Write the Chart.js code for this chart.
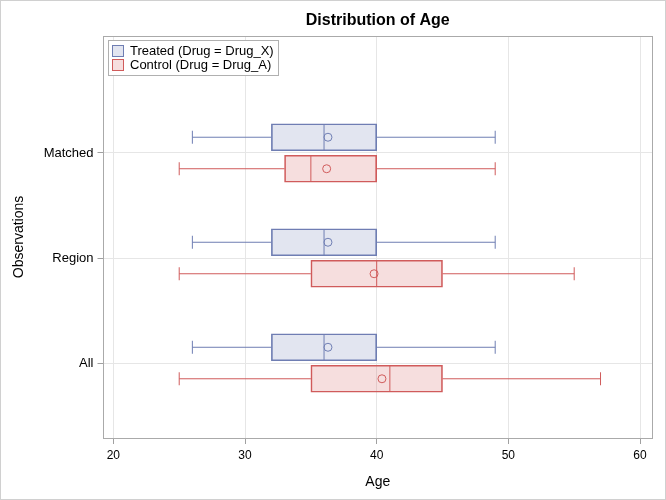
<!DOCTYPE html>
<html><head><meta charset="utf-8">
<script src="https://cdn.jsdelivr.net/npm/chart.js@4.4.1/dist/chart.umd.min.js"></script>
<style>html,body{margin:0;padding:0;background:#fff;overflow:hidden}canvas{display:block}</style>
</head><body>
<canvas id="c" width="666" height="500"></canvas>
<script>
// ---- data ----
const categories = ['All', 'Region', 'Matched'];
const xTicks = [20, 30, 40, 50, 60];
const seriesLabels = ['Treated (Drug = Drug_X)', 'Control (Drug = Drug_A)'];

const treatedMin    = [26, 26, 26];
const treatedQ1     = [32, 32, 32];
const treatedMedian = [36, 36, 36];
const treatedMean   = [36.3, 36.3, 36.3];
const treatedQ3     = [40, 40, 40];
const treatedMax    = [49, 49, 49];

const controlMin    = [25, 25, 25];
const controlQ1     = [35, 35, 33];
const controlMedian = [41, 40, 35];
const controlMean   = [40.4, 39.8, 36.2];
const controlQ3     = [45, 45, 40];
const controlMax    = [57, 55, 49];

// ---- styles ----
const FONT = '"Liberation Sans", Arial, sans-serif';
const GROUP_OFFSET = 0.15;
const BOX_PX = 27;
const TREATED = { stroke: '#6F7EB3', fill: 'rgba(111,126,179,0.2)' };
const CONTROL = { stroke: '#D05B5B', fill: 'rgba(208,91,91,0.2)' };

function buildSeries(label, mins, q1s, meds, means, q3s, maxs, offset, col) {
  const pos = i => i + 1 + offset;
  const gap = { x: null, y: null };
  return [
    { type: 'bar', label, isBox: true,
      data: categories.map((c, i) => ({ x: [q1s[i], q3s[i]], y: pos(i) })),
      backgroundColor: col.fill, borderColor: col.stroke, borderWidth: 1,
      borderSkipped: false, grouped: false, barPercentage: 1, categoryPercentage: 1,
      maxBarThickness: BOX_PX, order: 3 },
    { type: 'line', label: label + ' whisker',
      data: categories.flatMap((c, i) => [
        { x: mins[i], y: pos(i) }, { x: q1s[i], y: pos(i) }, gap,
        { x: q3s[i], y: pos(i) }, { x: maxs[i], y: pos(i) }, gap]),
      borderColor: col.stroke, borderWidth: 1, pointRadius: 0, spanGaps: false, fill: false, order: 2 },
    { type: 'line', label: label + ' caps', showLine: false,
      data: categories.flatMap((c, i) => [{ x: mins[i], y: pos(i) }, { x: maxs[i], y: pos(i) }]),
      pointStyle: 'line', pointRotation: 90, pointRadius: 6.5,
      pointBorderColor: col.stroke, pointBorderWidth: 1, order: 1 },
    { type: 'line', label: label + ' median', showLine: false,
      data: categories.map((c, i) => ({ x: meds[i], y: pos(i) })),
      pointStyle: 'line', pointRotation: 90, pointRadius: BOX_PX / 2 - 0.5,
      pointBorderColor: col.stroke, pointBorderWidth: 1, order: 1 },
    { type: 'line', label: label + ' mean', showLine: false,
      data: categories.map((c, i) => ({ x: means[i], y: pos(i) })),
      pointStyle: 'circle', pointRadius: 4, pointBackgroundColor: 'rgba(0,0,0,0)',
      pointBorderColor: col.stroke, pointBorderWidth: 1, order: 1 }
  ];
}

const datasets = [
  ...buildSeries(seriesLabels[0], treatedMin, treatedQ1, treatedMedian, treatedMean, treatedQ3, treatedMax, GROUP_OFFSET, TREATED),
  ...buildSeries(seriesLabels[1], controlMin, controlQ1, controlMedian, controlMean, controlQ3, controlMax, -GROUP_OFFSET, CONTROL)
];

const framePlugin = {
  id: 'frame',
  afterDraw(chart) {
    const { ctx, chartArea: a } = chart;
    ctx.save();
    ctx.lineWidth = 1;
    ctx.strokeStyle = '#aaaaaa';
    const l = Math.floor(a.left) + 0.5, t = Math.floor(a.top) + 0.5;
    const r = Math.floor(a.right) + 0.5, b = Math.floor(a.bottom) + 0.5;
    ctx.strokeRect(l, t, r - l, b - t);
    // legend
    const items = chart.data.datasets.filter(d => d.isBox);
    ctx.font = '13px ' + FONT;
    const x0 = l + 5, y0 = t + 4;
    const textX = x0 + 21.5;
    const rowH = 14.3;
    let maxW = 0;
    items.forEach(d => { maxW = Math.max(maxW, ctx.measureText(d.label).width); });
    const w = textX - x0 + maxW + 5, h = 10 + rowH * (items.length - 1) + 10.5;
    ctx.fillStyle = '#fff';
    ctx.fillRect(x0, y0, Math.round(w), Math.round(h));
    ctx.strokeStyle = '#b0b0b0';
    ctx.strokeRect(x0, y0, Math.round(w), Math.round(h));
    items.forEach((d, i) => {
      const cy = y0 + 10 + rowH * i;
      const sx = Math.floor(x0 + 3.5) + 0.5, sy = Math.floor(cy - 5.5) + 0.5;
      ctx.fillStyle = '#fff';
      ctx.fillRect(sx, sy, 11, 11);
      ctx.fillStyle = d.backgroundColor;
      ctx.fillRect(sx, sy, 11, 11);
      ctx.strokeStyle = d.borderColor;
      ctx.strokeRect(sx, sy, 11, 11);
      ctx.fillStyle = '#000';
      ctx.textBaseline = 'middle';
      ctx.textAlign = 'left';
      ctx.fillText(d.label, textX, cy + 0.5);
    });
    // outer border
    ctx.strokeStyle = '#d0d0d0';
    ctx.strokeRect(0.5, 0.5, chart.width - 1, chart.height - 1);
    ctx.restore();
  }
};

new Chart(document.getElementById('c'), {
  type: 'bar',
  data: { datasets },
  plugins: [framePlugin],
  options: {
    indexAxis: 'y',
    responsive: false,
    animation: false,
    devicePixelRatio: 1,
    layout: { padding: { left: 0, right: 12.5, top: 0, bottom: 0 } },
    plugins: {
      legend: { display: false },
      tooltip: { enabled: false },
      title: {
        display: true, text: 'Distribution of Age', color: '#000', fullSize: false,
        font: { family: FONT, size: 16, weight: 'bold' },
        padding: { top: 11, bottom: 5.8 }
      }
    },
    scales: {
      x: {
        type: 'linear', min: 19.25, max: 60.91, offset: false,
        afterBuildTicks: s => { s.ticks = xTicks.map(v => ({ value: v })); },
        afterFit: s => { s.height = 62; },
        ticks: { color: '#000', font: { family: FONT, size: 12 }, padding: 4 },
        grid: { color: '#e6e6e6', tickColor: '#a0a0a0', tickLength: 6, offset: false },
        border: { display: false },
        title: { display: true, text: 'Age', color: '#000', font: { family: FONT, size: 14 }, padding: { top: 0, bottom: 9.6 } }
      },
      y: {
        type: 'linear', min: 0.286, max: 4.114, offset: false,
        afterBuildTicks: s => { s.ticks = categories.map((c, i) => ({ value: i + 1 })); },
        afterFit: s => { s.width = 103.5; },
        ticks: { color: '#000', font: { family: FONT, size: 13 }, padding: 4,
                 callback: v => categories[Math.round(v) - 1] },
        grid: { color: '#e6e6e6', tickColor: '#a0a0a0', tickLength: 6, offset: false },
        border: { display: false },
        title: { display: true, text: 'Observations', color: '#000', font: { family: FONT, size: 14 }, padding: { top: 11, bottom: 0 } }
      }
    }
  }
});
</script>
</body></html>
